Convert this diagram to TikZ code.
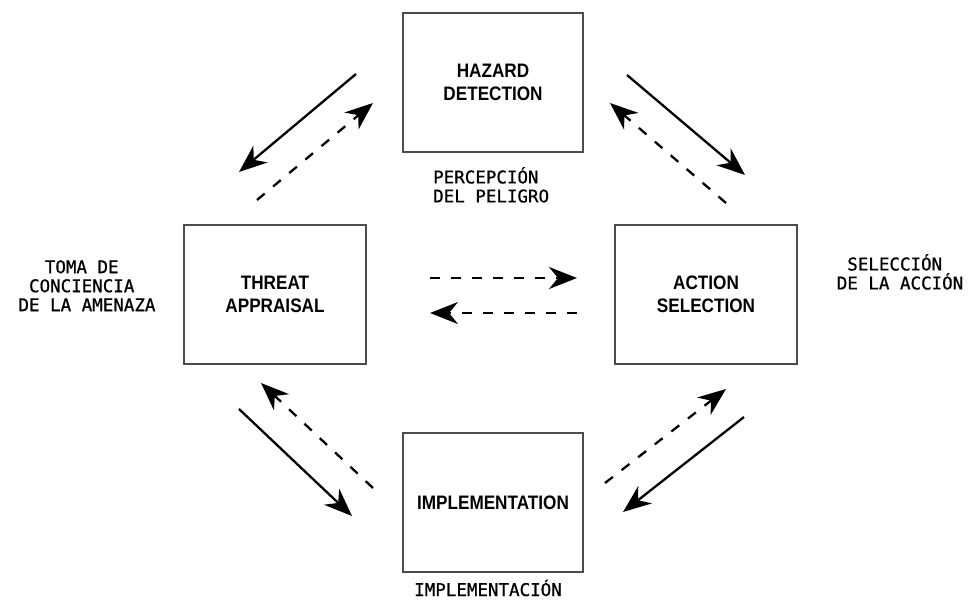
\documentclass[tikz,border=0pt]{standalone}
\usepackage{fontspec}
\setmainfont{Liberation Sans}
\newfontfamily\boxfont[FakeStretch=0.88]{Liberation Sans}
\newfontfamily\monofont[FakeBold=0.8]{DejaVu Sans Mono}
\usetikzlibrary{arrows.meta}
\begin{document}
\begin{tikzpicture}[x=1pt,y=-1pt,
  stagebox/.style={draw=black!70, line width=1.4pt, minimum width=180pt, minimum height=139pt,
    align=center, inner sep=0pt, font=\boxfont\bfseries\fontsize{19.5}{23}\selectfont},
  tag/.style={inner sep=0pt, font=\monofont\fontsize{17.5}{19}\selectfont},
  flow/.style={line width=2.3pt, -{Stealth[length=28pt,width=22pt,inset=9pt]}},
  backflow/.style={flow, dash pattern=on 10pt off 11pt}
]
\useasboundingbox (0,0) rectangle (973,601);

\node[stagebox] (hazard) at (493,82.5) {HAZARD\\DETECTION};
\node[stagebox, minimum width=182pt] (threat) at (275,294.5) {THREAT\\APPRAISAL};
\node[stagebox, minimum width=182pt] (action) at (706,294.5) {ACTION\\SELECTION};
\node[stagebox] (impl) at (493,502.5) {IMPLEMENTATION};

\node[tag, anchor=north west, align=left] (lhazard) at (433,167) {PERCEPCIÓN\\DEL PELIGRO};
\node[tag, anchor=north, align=center] (lthreat) at (87,260) {TOMA DE\phantom{X}\\CONCIENCIA\phantom{X}\\DE LA AMENAZA};
\node[tag, anchor=north, align=center] (laction) at (900,254) {SELECCIÓN\phantom{X}\\DE LA ACCIÓN};
\node[tag, anchor=base] (limpl) at (488,596) {IMPLEMENTACIÓN};

% top-left
\coordinate (a1s) at (356,74);  \coordinate (a1e) at (239,172);
\coordinate (b1s) at (257,200); \coordinate (b1e) at (373,103);
% top-right
\coordinate (a2s) at (627,75);  \coordinate (a2e) at (745,175);
\coordinate (b2s) at (726,203); \coordinate (b2e) at (610,103);
% middle
\coordinate (m1s) at (430,278); \coordinate (m1e) at (577,278);
\coordinate (m2s) at (577,313); \coordinate (m2e) at (430,313);
% bottom-left
\coordinate (a3s) at (239,409); \coordinate (a3e) at (352,516);
\coordinate (b3s) at (373,488); \coordinate (b3e) at (261,383);
% bottom-right
\coordinate (a4s) at (744,417); \coordinate (a4e) at (623,512);
\coordinate (b4s) at (605,483); \coordinate (b4e) at (726,389);

\draw[flow] (a1s) -- (a1e);
\draw[backflow] (b1s) -- (b1e);
\draw[flow] (a2s) -- (a2e);
\draw[backflow] (b2s) -- (b2e);
\draw[backflow] (m1s) -- (m1e);
\draw[backflow] (m2s) -- (m2e);
\draw[flow] (a3s) -- (a3e);
\draw[backflow] (b3s) -- (b3e);
\draw[flow] (a4s) -- (a4e);
\draw[backflow] (b4s) -- (b4e);
\end{tikzpicture}
\end{document}
